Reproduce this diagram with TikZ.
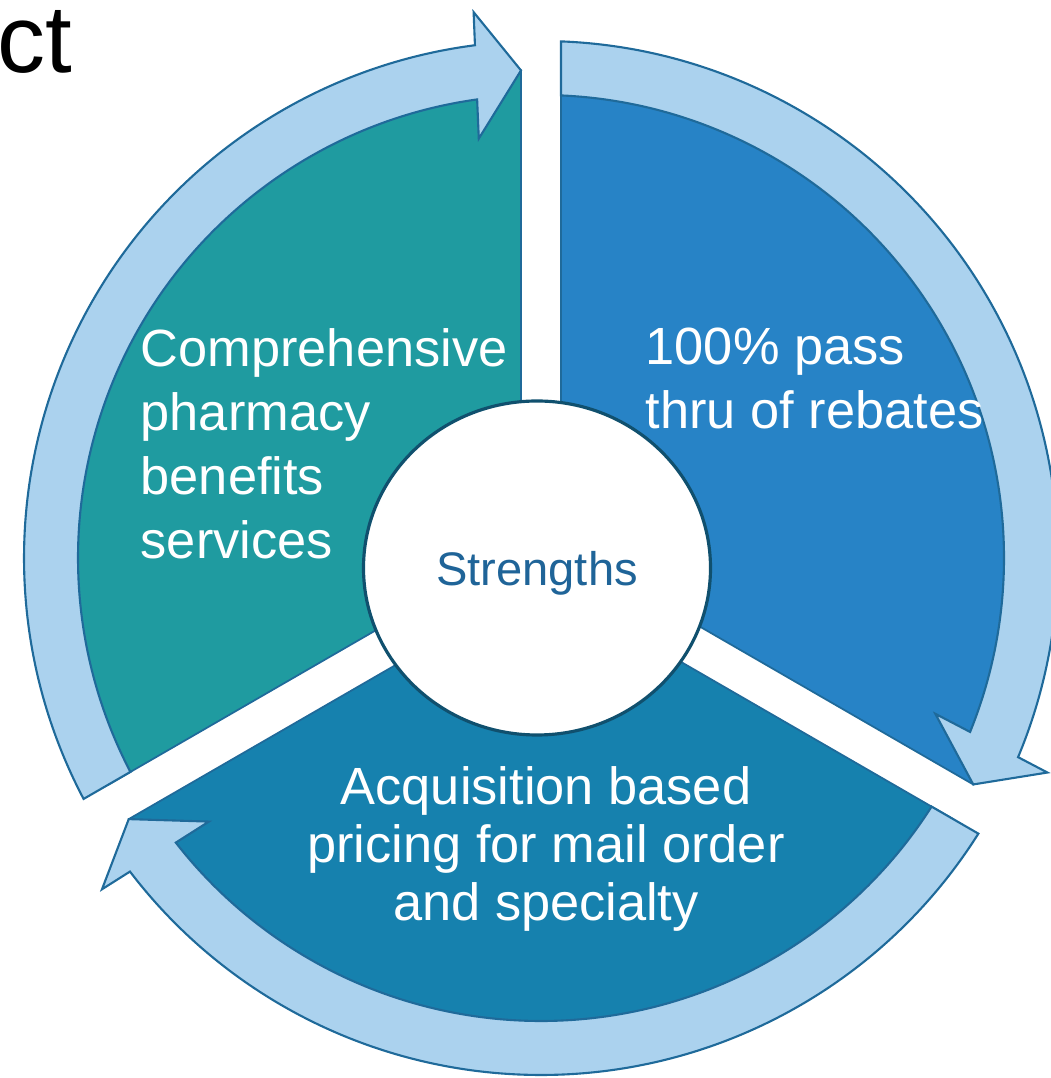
\documentclass[tikz,border=0pt]{standalone}
\usepackage{fontspec}
\setmainfont{Liberation Sans}
\usetikzlibrary{shapes.geometric}

\definecolor{tealseg}{HTML}{1F9BA0}
\definecolor{blueseg}{HTML}{2783C6}
\definecolor{deepseg}{HTML}{1681AE}
\definecolor{bandfill}{HTML}{ABD2EE}
\definecolor{edgeblue}{HTML}{1F6A9A}
\definecolor{hubedge}{HTML}{10506E}
\definecolor{hubtext}{HTML}{1F6498}

\begin{document}
\begin{tikzpicture}[
        segment/.style={draw=edgeblue, line width=0.5pt, line join=miter},
        band/.style={fill=bandfill, draw=edgeblue, line width=0.6pt, line join=miter},
        hub/.style={ellipse, draw=hubedge, fill=white, line width=0.9pt, minimum width=3.47cm, minimum height=3.34cm, inner sep=0pt},
        segtext/.style={text=white, inner sep=0pt, font=\fontsize{14.9}{18.2}\selectfont}
    ]
        \useasboundingbox (-5.41,-5.20) rectangle (5.09,5.58);

        % Title fragment
        \node[anchor=base east, inner sep=0pt, font=\fontsize{27.3}{32}\selectfont] (title) at (-4.68,4.85) {ct};

        % Segments
        \draw[segment, fill=tealseg] (150:0.231) -- (92.35:4.88) arc[start angle=92.35, end angle=207.65, radius=4.88] -- cycle;
        \draw[segment, fill=blueseg] (30:0.231) -- (-27.65:4.88) arc[start angle=-27.65, end angle=87.65, radius=4.88] -- cycle;
        \draw[segment, fill=deepseg] (270:0.231) -- (212.35:4.88) arc[start angle=212.35, end angle=327.65, radius=4.88] -- cycle;

        % Circular arrows
        \draw[band] (207.78:5.17) arc[start angle=207.78, end angle=97.34, radius=5.17] -- (97.04:5.50) -- (92.35:4.88) -- (98.44:4.24) -- (97.93:4.63) arc[start angle=97.93, end angle=207.52, radius=4.63] -- cycle;
        \draw[band] (87.78:5.17) arc[start angle=87.78, end angle=-22.66, radius=5.17] -- (-22.96:5.50) -- (-27.65:4.88) -- (-21.56:4.24) -- (-22.07:4.63) arc[start angle=-22.07, end angle=87.52, radius=4.63] -- cycle;
        \draw[band] (327.78:5.17) arc[start angle=327.78, end angle=217.34, radius=5.17] -- (217.04:5.50) -- (212.35:4.88) -- (218.44:4.24) -- (217.93:4.63) arc[start angle=217.93, end angle=327.52, radius=4.63] -- cycle;

        % Centre
        \node[hub, text=hubtext, font=\fontsize{13.4}{16}\selectfont] (strengths) at (-0.04,-0.10) {\raisebox{-0.5mm}[\height][\depth]{Strengths}};

        % Segment labels
        \node[segtext, anchor=west, align=left] (services) at (-4.01,1.14) {Comprehensive\\pharmacy\\benefits\\services};
        \node[segtext, anchor=west, align=left] (rebates) at (1.04,1.795) {100\% pass\\thru of rebates};
        \node[segtext, align=center, font=\fontsize{14.9}{16.4}\selectfont] (pricing) at (0.05,-2.91) {Acquisition based\\pricing for mail order\\and specialty};
    \end{tikzpicture}
\end{document}
